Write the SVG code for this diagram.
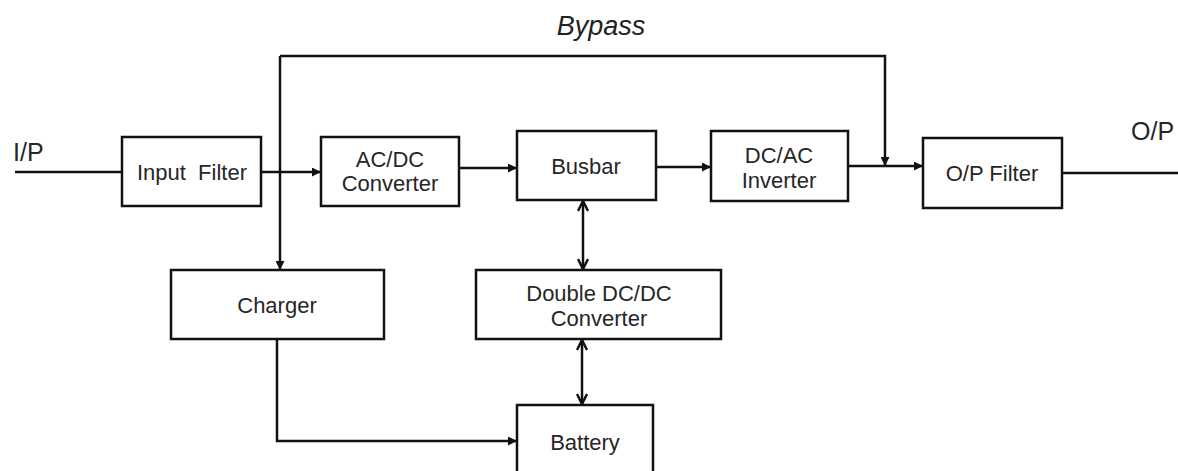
<svg xmlns="http://www.w3.org/2000/svg" width="1178" height="471" viewBox="0 0 1178 471">
<defs>
<style>
.box{fill:#fff;stroke:#111;stroke-width:2.5}
.lbl{font-family:"Liberation Sans",Arial,sans-serif;font-size:22px;fill:#262626;text-anchor:middle;white-space:pre}
.io{font-family:"Liberation Sans",Arial,sans-serif;font-size:25px;fill:#262626}
.ln{fill:none;stroke:#111;stroke-width:2.5}
</style>
<marker id="arr" viewBox="0 0 10 10" refX="10" refY="5" markerWidth="11" markerHeight="9" markerUnits="userSpaceOnUse" orient="auto">
<path d="M0,0 L10,5 L0,10 z" fill="#111"/>
</marker>
<marker id="chev" viewBox="0 0 12 12" refX="11" refY="6" markerWidth="12" markerHeight="12" markerUnits="userSpaceOnUse" orient="auto-start-reverse">
<path d="M1,1 L11,6 L1,11" fill="none" stroke="#111" stroke-width="2.5"/>
</marker>
</defs>
<rect width="1178" height="471" fill="#fff"/>

<g id="connectors">
<path class="ln" d="M15,172 H122"/>
<path class="ln" d="M261,172 H321" marker-end="url(#arr)"/>
<path class="ln" d="M280,56 V270" marker-end="url(#arr)"/>
<path class="ln" d="M280,56 H885 V166" marker-end="url(#arr)"/>
<path class="ln" d="M459,168 H517" marker-end="url(#arr)"/>
<path class="ln" d="M656,167 H711" marker-end="url(#arr)"/>
<path class="ln" d="M848,166 H923" marker-end="url(#arr)"/>
<path class="ln" d="M1062,173 H1178"/>
<path class="ln" d="M583,201 V269" marker-start="url(#chev)" marker-end="url(#chev)"/>
<path class="ln" d="M582,340 V404" marker-start="url(#chev)" marker-end="url(#chev)"/>
<path class="ln" d="M277,339 V441 H517" marker-end="url(#arr)"/>
</g>

<text class="io" x="13" y="161">I/P</text>
<text class="io" x="1131" y="140">O/P</text>
<text x="601" y="35" font-family="'Liberation Sans',Arial,sans-serif" font-size="27" font-style="italic" fill="#222" text-anchor="middle">Bypass</text>

<g id="input-filter">
<rect class="box" x="122" y="137" width="139" height="69"/>
<text class="lbl" x="192" y="180">Input  Filter</text>
</g>
<g id="acdc">
<rect class="box" x="321" y="137" width="138" height="69"/>
<text class="lbl" x="390" y="167">AC/DC</text>
<text class="lbl" x="390" y="191">Converter</text>
</g>
<g id="busbar">
<rect class="box" x="517" y="131" width="139" height="69"/>
<text class="lbl" x="586" y="174">Busbar</text>
</g>
<g id="dcac">
<rect class="box" x="711" y="131" width="137" height="70"/>
<text class="lbl" x="779" y="163">DC/AC</text>
<text class="lbl" x="779" y="188">Inverter</text>
</g>
<g id="op-filter">
<rect class="box" x="923" y="138" width="139" height="70"/>
<text class="lbl" x="992" y="181">O/P Filter</text>
</g>
<g id="charger">
<rect class="box" x="171" y="270" width="213" height="69"/>
<text class="lbl" x="277" y="313">Charger</text>
</g>
<g id="double-dcdc">
<rect class="box" x="476" y="270" width="245" height="69"/>
<text class="lbl" x="599" y="301">Double DC/DC</text>
<text class="lbl" x="599" y="326">Converter</text>
</g>
<g id="battery">
<rect class="box" x="517" y="405" width="136" height="80"/>
<text class="lbl" x="585" y="450">Battery</text>
</g>
</svg>
